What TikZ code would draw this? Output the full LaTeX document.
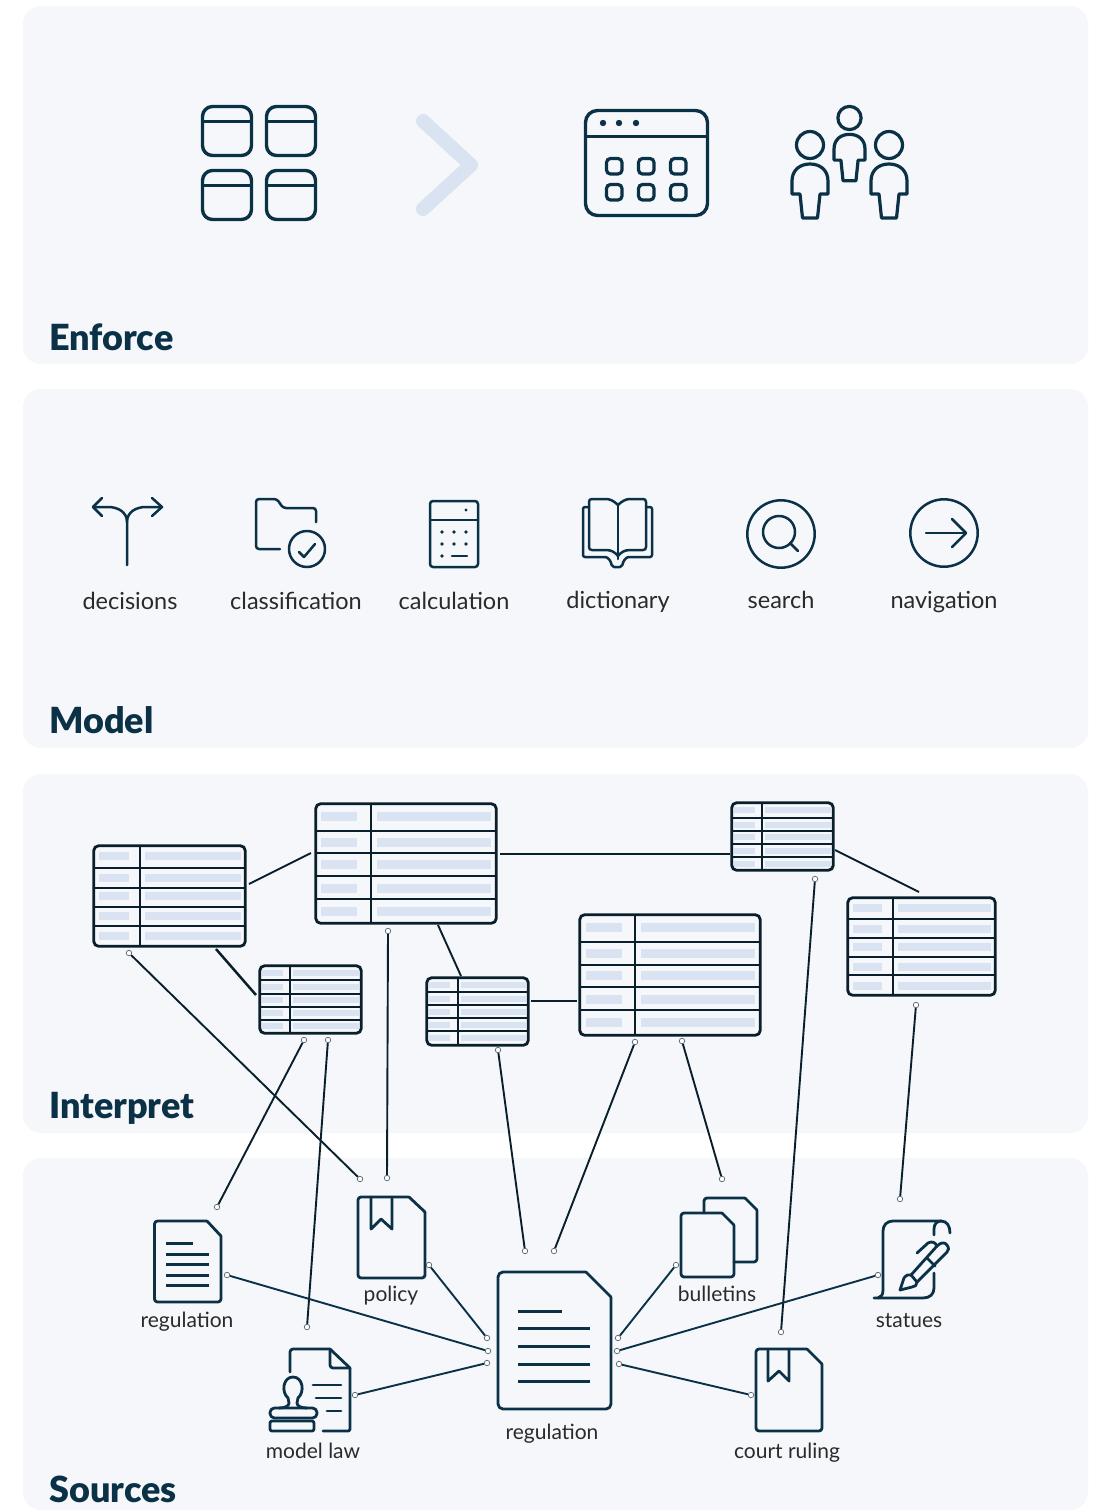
\documentclass[tikz,border=0pt]{standalone}
\usepackage{fontspec}
\setmainfont{Lato}
\newfontfamily\titlefont{Lato Black}
\definecolor{panel}{HTML}{F5F7FB}
\definecolor{ink}{HTML}{0B3147}
\definecolor{rule}{HTML}{0A1F2C}
\definecolor{cellfill}{HTML}{DAE3F1}
\definecolor{labelc}{HTML}{2A2A2A}
\tikzset{
  panelbox/.style={fill=panel,rounded corners=18pt},
  titletext/.style={anchor=base west,inner sep=0pt,text=ink,font=\fontsize{36}{40}\selectfont\titlefont},
  modeltext/.style={anchor=base,inner sep=0pt,text=labelc,font=\fontsize{23.5}{28}\selectfont},
  sourcetext/.style={anchor=base,inner sep=0pt,text=labelc,font=\fontsize{21}{26}\selectfont},
  heavy/.style={draw=ink,line width=3.4pt,rounded corners=10pt,line join=round},
  thinicon/.style={draw=ink,line width=2.5pt,line cap=round,line join=round},
  docicon/.style={draw=ink,line width=2.8pt,line cap=round,line join=round},
  tableframe/.style={draw=rule,line width=2.8pt,rounded corners=5pt,inner sep=0pt,outer sep=0pt},
  tablerule/.style={draw=rule,line width=2.5pt},
  dot/.style={circle,draw=rule!70!white,fill=white,line width=.7pt,inner sep=0pt,minimum size=5.5pt},
  link/.style={draw=rule,line width=1.9pt},
  srclink/.style={draw=ink,line width=1.9pt},
}
\newcommand{\dtable}[5]{%
  \foreach \xa/\ya/\xb/\yb/\xd in {#2}{%
    \foreach \la/\lb/\ra/\rb/\hh in {#4}{%
      \foreach \tp in {#5}{%
        \fill[cellfill] (\la,\tp) rectangle (\lb,\tp+\hh);
        \fill[cellfill] (\ra,\tp) rectangle (\rb,\tp+\hh);
      }%
    }%
    \foreach \rr in {#3}{\draw[tablerule] (\xa,\rr) -- (\xb,\rr);}
    \draw[tablerule] (\xd,\ya) -- (\xd,\yb);
    \node[tableframe,minimum width={(\xb-\xa-1.4)*1pt},minimum height={(\yb-\ya-1.4)*1pt}] (#1) at ({(\xa+\xb)/2},{(\ya+\yb)/2}) {};
  }%
}
\newcommand{\persona}[3]{%
  \begin{scope}[shift={(#1,#2)},scale=#3]
    \draw[ink,line width=3.2pt] (0,0) circle (13.5);
    \draw[ink,line width=3.2pt,line join=round] (-18,49) -- (-18,36) .. controls (-18,25) and (-10,19) .. (0,19) .. controls (10,19) and (18,25) .. (18,36) -- (18,49) -- (10,49) -- (7.5,73) -- (-7.5,73) -- (-10,49) -- cycle;
  \end{scope}%
}
\newcommand{\gridcell}[2]{%
  \begin{scope}[shift={(#1,#2)}]
    \draw[heavy] (0,0) rectangle (49,49);
    \draw[ink,line width=3.2pt] (0,15) -- (49,15);
  \end{scope}%
}
\begin{document}
\begin{tikzpicture}[x=1pt,y=-1pt]
\useasboundingbox (0,0) rectangle (1107,1510);
\fill[white] (0,0) rectangle (1107,1510);
% panels
\fill[panelbox] (23,6) rectangle (1088,364);
\fill[panelbox] (23,389) rectangle (1088,748);
\fill[panelbox] (23,774) rectangle (1088,1133);
\fill[panelbox] (23,1158) rectangle (1088,1510);
\node[titletext] (tEnforce) at (49,350) {Enforce};
\node[titletext] (tModel) at (49,733) {Model};
\node[titletext] (tInterpret) at (49,1118) {Interpret};
\node[titletext] (tSources) at (49,1502) {Sources};
% ---- Enforce icons
\gridcell{202.5}{106.5}\gridcell{266.5}{106.5}\gridcell{202.5}{170.5}\gridcell{266.5}{170.5}
\draw[cellfill,line width=14pt,line cap=round,line join=round] (423,121) -- (471,165) -- (423,209);
\draw[heavy,rounded corners=12pt] (585.5,110.5) rectangle (707.5,215.5);
\draw[ink,line width=3pt] (585.5,136) -- (707.5,136);
\foreach \px in {603,619,636}{\fill[ink] (\px,123) circle (3.2);}
\foreach \px in {606.5,638.5,670.5}{\foreach \py in {158.5,184.5}{
  \draw[ink,line width=3.2pt,rounded corners=4pt] (\px,\py) rectangle ++(15.5,15.5);}}
\persona{810}{145}{1}
\persona{849.5}{118}{.86}
\persona{889}{145}{1}
% ---- Model icons
\draw[thinicon] (127,565) -- (127,522) .. controls (127,512) and (118,507) .. (108,507) -- (93,507);
\draw[thinicon] (127,522) .. controls (127,512) and (136,507) .. (146,507) -- (162,507);
\draw[thinicon] (102,498) -- (93,507) -- (102,516);
\draw[thinicon] (152,498) -- (162,507) -- (152,516);
\draw[thinicon,rounded corners=3pt] (280,549) -- (256,549) -- (256,499) -- (277,499) -- (283,508) -- (316,508) -- (316,522);
\draw[thinicon] (307,549) circle (18);
\draw[thinicon] (299,552) -- (304,557) -- (315,544);
\draw[thinicon,rounded corners=3pt] (430,501) rectangle (478,567);
\draw[thinicon] (430,520) -- (478,520);
\fill[ink] (466,510) circle (1.6);
\foreach \px in {442,454,466}{\foreach \py in {532,544}{\fill[ink] (\px,\py) circle (1.9);}}
\fill[ink] (442,556) circle (1.9);
\draw[thinicon] (452,556) -- (467,556);
\draw[thinicon] (618,505) .. controls (614,501) and (610,499) .. (606,499) -- (592,499) .. controls (590,499) and (589,500) .. (589,502) -- (589,547) .. controls (589,549) and (590,550) .. (592,550) -- (606,550) .. controls (611,550) and (615,552) .. (618,556);
\draw[thinicon] (618,505) .. controls (622,501) and (626,499) .. (630,499) -- (643,499) .. controls (645,499) and (646,500) .. (646,502) -- (646,547) .. controls (646,549) and (645,550) .. (643,550) -- (630,550) .. controls (625,550) and (621,552) .. (618,556);
\draw[thinicon] (618,505) -- (618,559);
\draw[thinicon,rounded corners=2pt] (589,507) -- (583,507) -- (583,557) -- (603,557) .. controls (608,557) and (611,561) .. (612,567) -- (622,567) .. controls (623,561) and (626,557) .. (631,557) -- (652,557) -- (652,507) -- (646,507);
\draw[thinicon] (781,534) circle (33.7);
\draw[thinicon] (779,532) circle (16);
\draw[thinicon] (790,543) -- (798,551);
\draw[thinicon] (944,533) circle (33.7);
\draw[thinicon] (926,533) -- (966,533);
\draw[thinicon] (952,519) -- (966,533) -- (952,547);
\node[modeltext] (mDecisions) at (130,609) {decisions};
\node[modeltext] (mClass) at (296,609) {classification};
\node[modeltext] (mCalc) at (454,609) {calculation};
\node[modeltext] (mDict) at (618,608.5) {dictionary};
\node[modeltext] (mSearch) at (781,608.5) {search};
\node[modeltext] (mNav) at (944,608.5) {navigation};
% ---- Interpret tables
\dtable{tA}{93/845/246/947/140}{868,888,907,926}{99/129/145/241/8}{852,874,892,912,932}
\dtable{tB}{315/803/497/924/371}{831,853,876,899}{321/357/377/491/9}{812,838,860,884,907}
\dtable{tC}{259/965/362/1034/290}{980,994,1007,1020}{262/283/293/359/6}{970,984,997,1010,1023}
\dtable{tD}{426/977/529/1046/458}{992,1005,1018,1031}{429/450/461/526/6}{982,996,1009,1022,1035}
\dtable{tE}{731/802/834/871/762}{818,831,844,857}{734/755/765/831/6}{807,822,834,848,861}
\dtable{tF}{579/914/761/1036/635}{942,965,987,1010}{586/622/641/755/9}{923,949,971,995,1018}
\dtable{tG}{847/897/996/996/893}{919,938,957,975}{853/882/898/991/8}{904,925,943,963,982}
% plain links
\coordinate (l1a) at (249,884); \coordinate (l1b) at (311,853);
\coordinate (l2a) at (500,854); \coordinate (l2b) at (730,854);
\coordinate (l3a) at (835,850); \coordinate (l3b) at (919,892);
\coordinate (l4a) at (216,949); \coordinate (l4b) at (256,995);
\coordinate (l5a) at (438,925); \coordinate (l5b) at (461,976);
\coordinate (l6a) at (531,1001); \coordinate (l6b) at (577,1001);
\draw[link] (l1a) -- (l1b);
\draw[link] (l2a) -- (l2b);
\draw[link] (l3a) -- (l3b);
\draw[link,line width=2.5pt] (l4a) -- (l4b);
\draw[link] (l5a) -- (l5b);
\draw[link] (l6a) -- (l6b);
% ---- Sources icons
\draw[docicon,rounded corners=3pt] (207,1221) -- (154.5,1221) -- (154.5,1302) -- (221,1302) -- (221,1236);
\draw[docicon] (207,1221) -- (221,1236);
\foreach \py in {1254,1264,1275,1285}{\draw[ink,line width=3pt] (166,\py) -- (209,\py);}
\draw[ink,line width=3pt] (166,1243) -- (193,1243);
\draw[docicon,rounded corners=3pt] (409,1197) -- (358,1197) -- (358,1278) -- (425,1278) -- (425,1212);
\draw[docicon] (409,1197) -- (425,1212);
\draw[docicon] (371,1197) -- (371,1229) -- (381,1219) -- (392,1229) -- (392,1197);
\draw[docicon,rounded corners=3pt] (290,1372) -- (290,1349) -- (330,1349);
\draw[docicon] (330,1349) -- (350,1368);
\draw[docicon,rounded corners=2pt] (350,1368) -- (350,1431) -- (323,1431);
\draw[docicon,rounded corners=3pt] (330,1349) -- (330,1368) -- (350,1368);
\draw[docicon] (313,1385) -- (341,1385);
\draw[docicon] (316,1398) -- (341,1398);
\draw[docicon] (327,1411) -- (341,1411);
\draw[docicon] (279,1408) .. controls (285,1408) and (289,1406) .. (289,1403) .. controls (289,1401) and (289,1400) .. (288,1398) .. controls (281,1392) and (283,1377) .. (293,1377) .. controls (303,1377) and (305,1392) .. (298,1398) .. controls (297,1400) and (297,1401) .. (297,1403) .. controls (297,1406) and (301,1408) .. (307,1408);
\draw[docicon,rounded corners=4.5pt] (270,1408) rectangle (317,1418);
\draw[docicon,rounded corners=2pt] (270,1421) rectangle (314,1431);
\draw[docicon,rounded corners=5pt] (586,1272) -- (498,1272) -- (498,1409) -- (611,1409) -- (611,1297);
\draw[docicon] (586,1272) -- (611,1297);
\foreach \py in {1328,1346,1364,1381}{\draw[ink,line width=3pt] (518,\py) -- (590,\py);}
\draw[ink,line width=3pt] (518,1311) -- (562,1311);
\draw[docicon,rounded corners=3pt] (722,1213) -- (681,1213) -- (681,1277) -- (734,1277) -- (734,1225);
\draw[docicon] (722,1213) -- (734,1225);
\draw[docicon,rounded corners=3pt] (704,1213) -- (704,1198) -- (745,1198);
\draw[docicon] (745,1198) -- (757,1210);
\draw[docicon,rounded corners=3pt] (757,1210) -- (757,1262) -- (734,1262);
\draw[docicon,rounded corners=3pt] (807,1349) -- (756,1349) -- (756,1431) -- (822,1431) -- (822,1364);
\draw[docicon] (807,1349) -- (822,1364);
\draw[docicon] (768,1349) -- (768,1381) -- (779,1371) -- (789,1381) -- (789,1349);
% statues
\draw[docicon] (874,1298) -- (923,1298) .. controls (930,1298) and (934,1294) .. (934,1288) -- (934,1273);
\draw[docicon] (878,1298) .. controls (881,1297) and (883,1295) .. (883,1290) -- (883,1231) .. controls (883,1225) and (887,1221) .. (893,1221) -- (941,1221);
\draw[docicon] (934,1235) -- (934,1229) .. controls (934,1224) and (937,1221) .. (941,1221) .. controls (947,1221) and (950,1226) .. (950,1233);
\draw[docicon] (900,1290) -- (904,1278) .. controls (906,1275) and (909,1274) .. (911,1275) -- (917,1282) .. controls (917,1285) and (915,1287) .. (912,1287) -- cycle;
\draw[docicon] (911,1275) -- (937,1246) .. controls (941,1242) and (945,1242) .. (947,1245) .. controls (949,1248) and (949,1250) .. (947,1252) -- (917,1282);
\draw[docicon] (927,1258) -- (935,1266);
\draw[docicon] (917,1253) -- (928,1243) .. controls (932,1241) and (935,1242) .. (937,1246);
\node[sourcetext] (sReg1) at (187,1327.5) {regulation};
\node[sourcetext] (sPolicy) at (391,1301) {policy};
\node[sourcetext] (sModel) at (313,1458) {model law};
\node[sourcetext] (sReg2) at (552,1439) {regulation};
\node[sourcetext] (sBull) at (717,1301) {bulletins};
\node[sourcetext] (sCourt) at (787,1458) {court ruling};
\node[sourcetext] (sStat) at (909,1327) {statues};
% ---- dotted connectors
\node[dot] (a1) at (129,953) {};   \node[dot] (a2) at (360,1179) {};
\node[dot] (b1) at (388,931) {};   \node[dot] (b2) at (387,1178) {};
\node[dot] (c1) at (304,1040) {};  \node[dot] (c2) at (217,1207) {};
\node[dot] (d1) at (328,1040) {};  \node[dot] (d2) at (307,1327) {};
\node[dot] (e1) at (498,1050) {};  \node[dot] (e2) at (525,1251) {};
\node[dot] (f1) at (635,1042) {};  \node[dot] (f2) at (554,1251) {};
\node[dot] (g1) at (682,1041) {};  \node[dot] (g2) at (722,1179) {};
\node[dot] (h1) at (815,879) {};   \node[dot] (h2) at (781,1332) {};
\node[dot] (i1) at (916,1005) {};  \node[dot] (i2) at (900,1199) {};
\foreach \p in {a,b,c,d,e,f,g,h,i}{\draw[link] (\p1) -- (\p2);}
\node[dot] (j1) at (227,1275) {};  \node[dot] (j2) at (488,1351) {};
\node[dot] (k1) at (429,1265) {};  \node[dot] (k2) at (487,1338) {};
\node[dot] (m1) at (355,1395) {};  \node[dot] (m2) at (487,1363) {};
\node[dot] (n1) at (676,1265) {};  \node[dot] (n2) at (618,1338) {};
\node[dot] (o1) at (878,1275) {};  \node[dot] (o2) at (617,1351) {};
\node[dot] (q1) at (751,1395) {};  \node[dot] (q2) at (619,1364) {};
\foreach \p in {j,k,m,n,o,q}{\draw[srclink] (\p1) -- (\p2);}
\end{tikzpicture}
\end{document}
